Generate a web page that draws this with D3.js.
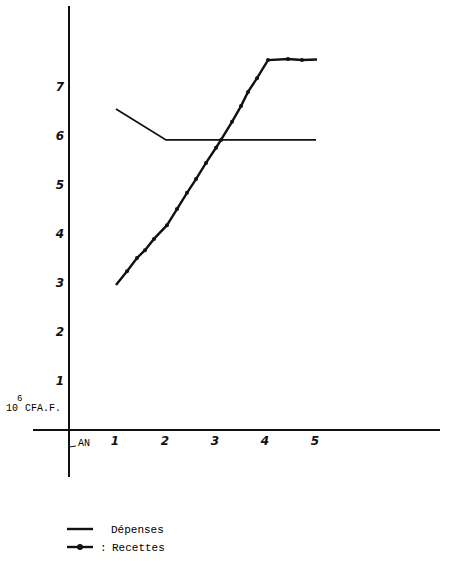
<!DOCTYPE html>
<html>
<head>
<meta charset="utf-8">
<script src="https://cdn.jsdelivr.net/npm/d3@7/dist/d3.min.js"></script>
<style>
  body { margin: 0; background: #fff; }
  .hand { font-family: "DejaVu Sans", sans-serif; font-weight: bold; font-style: italic; font-size: 12px; fill: #111; }
  .type { font-family: "Liberation Mono", "DejaVu Sans Mono", monospace; fill: #000; }
</style>
</head>
<body>
<div id="chart"></div>
<script>
// years on the x axis, values in 10^6 CFA.F.
var xTicks = [1, 2, 3, 4, 5];
var yTicks = [1, 2, 3, 4, 5, 6, 7];

// Dépenses: plain line
var depenses = [[1, 6.55], [2, 5.92], [5, 5.92]];

// Recettes: line with dots
var recettes = [
  [1.0, 2.96], [1.22, 3.24], [1.42, 3.51], [1.58, 3.67], [1.76, 3.90],
  [2.02, 4.18], [2.22, 4.51], [2.42, 4.84], [2.60, 5.12], [2.80, 5.45],
  [3.0, 5.76], [3.10, 5.92], [3.32, 6.29], [3.50, 6.61], [3.64, 6.90],
  [3.82, 7.18], [4.04, 7.55], [4.44, 7.57], [4.72, 7.55], [5.02, 7.56]
];

var legendLabels = ["Dépenses", "Recettes"];

var width = 450,
    height = 561;

var svg = d3.select("#chart").append("svg")
    .attr("width", width)
    .attr("height", height);

// scales
var x = d3.scaleLinear().domain([0, 5]).range([66, 316]);
var y = d3.scaleLinear().domain([0, 7]).range([430, 87]);

var axisX = 69; // where the vertical axis sits

// axes lines
svg.append("line")
    .attr("x1", axisX).attr("x2", axisX)
    .attr("y1", 6).attr("y2", 477)
    .style("stroke", "#111").style("stroke-width", 2);
svg.append("line")
    .attr("x1", 33).attr("x2", 440)
    .attr("y1", y(0)).attr("y2", y(0))
    .style("stroke", "#111").style("stroke-width", 2);

// y tick labels
svg.selectAll(".ylab")
    .data(yTicks)
    .enter()
    .append("text")
    .attr("class", "hand")
    .attr("x", 60)
    .attr("y", function (d) { return y(d) + 4; })
    .attr("text-anchor", "middle")
    .text(function (d) { return d; });

// x tick labels
svg.selectAll(".xlab")
    .data(xTicks)
    .enter()
    .append("text")
    .attr("class", "hand")
    .attr("x", function (d) { return x(d) - 1; })
    .attr("y", 445)
    .attr("text-anchor", "middle")
    .text(function (d) { return d; });

// unit label
svg.append("text").attr("class", "type")
    .attr("x", 6).attr("y", 411)
    .style("font-size", "10px")
    .text("10");
svg.append("text").attr("class", "type")
    .attr("x", 17).attr("y", 401)
    .style("font-size", "9px")
    .text("6");
svg.append("text").attr("class", "type")
    .attr("x", 25).attr("y", 411)
    .style("font-size", "10px")
    .text("CFA.F.");

// AN label
svg.append("line")
    .attr("x1", axisX).attr("x2", 76)
    .attr("y1", 447).attr("y2", 446)
    .style("stroke", "#111").style("stroke-width", 1);
svg.append("text").attr("class", "type")
    .attr("x", 78).attr("y", 446)
    .style("font-size", "10px")
    .text("AN");

var line = d3.line()
    .x(function (d) { return x(d[0]); })
    .y(function (d) { return y(d[1]); });

// Dépenses
svg.append("path")
    .datum(depenses)
    .attr("d", line)
    .style("fill", "none")
    .style("stroke", "#111")
    .style("stroke-width", 1.8);

// Recettes
svg.append("path")
    .datum(recettes)
    .attr("d", line)
    .style("fill", "none")
    .style("stroke", "#111")
    .style("stroke-width", 2.4);

svg.selectAll(".dot")
    .data(recettes.slice(1, recettes.length - 1))
    .enter()
    .append("circle")
    .attr("cx", function (d) { return x(d[0]); })
    .attr("cy", function (d) { return y(d[1]); })
    .attr("r", 2)
    .style("fill", "#111");

// legend
var lg = svg.append("g").attr("transform", "translate(67,529)");
lg.append("line")
    .attr("x1", 0).attr("x2", 26).attr("y1", 0).attr("y2", 0)
    .style("stroke", "#111").style("stroke-width", 2.4);
lg.append("text").attr("class", "type")
    .attr("x", 44).attr("y", 4)
    .style("font-size", "11px")
    .text(legendLabels[0]);
lg.append("line")
    .attr("x1", 0).attr("x2", 26).attr("y1", 18).attr("y2", 18)
    .style("stroke", "#111").style("stroke-width", 2.4);
lg.append("circle")
    .attr("cx", 13).attr("cy", 18).attr("r", 3)
    .style("fill", "#111");
lg.append("text").attr("class", "type")
    .attr("x", 33).attr("y", 22)
    .style("font-size", "11px")
    .text(":");
lg.append("text").attr("class", "type")
    .attr("x", 45).attr("y", 22)
    .style("font-size", "11px")
    .text(legendLabels[1]);
</script>
</body>
</html>
